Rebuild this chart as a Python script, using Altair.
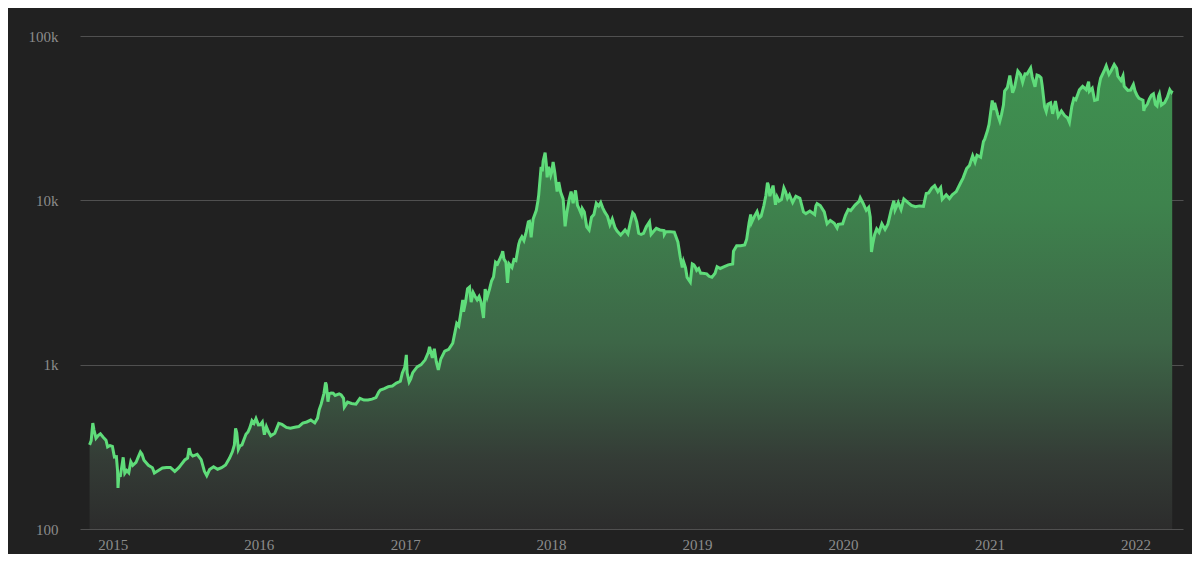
import altair as alt
import pandas as pd

# ---- data (date within year, price in USD) ----
d2014 = ["11-04", "11-08", "11-12", "11-15", "11-20", "11-26", "12-01", "12-08", "12-15", "12-19", "12-25", "12-31"]
p2014 = [325, 345, 441, 400, 357, 372, 380, 362, 347, 316, 322, 318]

d2015 = ["01-05", "01-10", "01-13", "01-14", "01-16", "01-20", "01-25", "01-27", "01-31", "02-05", "02-10",
         "02-15", "02-20", "02-28", "03-05", "03-11", "03-15", "03-20", "03-31", "04-10", "04-15", "04-25",
         "05-05", "05-15", "05-25", "06-05", "06-15", "06-20", "06-30", "07-07", "07-11", "07-15", "07-20",
         "07-31", "08-10", "08-18", "08-24", "08-31", "09-10", "09-20", "09-30", "10-10", "10-20", "10-27",
         "11-01", "11-04", "11-07", "11-11", "11-15", "11-20", "11-30", "12-05", "12-10", "12-15", "12-20",
         "12-25", "12-31"]
p2015 = [274, 275, 225, 178, 210, 211, 253, 273, 218, 227, 220,
         257, 244, 254, 272, 294, 285, 262, 244, 236, 219, 227,
         235, 237, 237, 224, 236, 245, 263, 270, 310, 286, 278,
         285, 264, 225, 211, 230, 239, 231, 236, 245, 270, 295,
         325, 410, 385, 305, 320, 325, 377, 389, 415, 456, 440,
         470, 430]

d2016 = ["01-05", "01-10", "01-15", "01-20", "01-25", "01-31", "02-10", "02-20", "02-28", "03-10", "03-20",
         "03-31", "04-10", "04-20", "04-30", "05-10", "05-20", "05-27", "05-31", "06-05", "06-12", "06-16",
         "06-18", "06-22", "06-25", "06-30", "07-05", "07-10", "07-20", "07-25", "07-31", "08-02", "08-10",
         "08-20", "08-31", "09-10", "09-20", "09-30", "10-10", "10-20", "10-27", "10-31", "11-10", "11-20",
         "11-30", "12-10", "12-20", "12-25", "12-31"]
p2016 = [431, 448, 375, 420, 392, 369, 382, 439, 433, 415, 411,
         416, 420, 441, 448, 460, 442, 473, 531, 575, 670, 780,
         755, 595, 665, 673, 670, 650, 665, 655, 624, 552, 592,
         581, 575, 623, 609, 609, 617, 630, 682, 700, 715, 735,
         742, 772, 792, 890, 963]

d2017 = ["01-04", "01-06", "01-11", "01-15", "01-20", "01-31", "02-10", "02-20", "02-28", "03-03", "03-10",
         "03-15", "03-20", "03-25", "03-31", "04-10", "04-20", "04-30", "05-05", "05-10", "05-15", "05-20",
         "05-25", "05-27", "06-01", "06-06", "06-11", "06-15", "06-20", "06-25", "06-30", "07-05", "07-10",
         "07-16", "07-20", "07-25", "07-31", "08-05", "08-10", "08-15", "08-20", "08-25", "08-31", "09-02",
         "09-05", "09-10", "09-14", "09-18", "09-25", "09-30", "10-05", "10-12", "10-15", "10-20", "10-25",
         "10-31", "11-05", "11-08", "11-12", "11-17", "11-25", "11-29", "12-01", "12-07", "12-10", "12-12",
         "12-17", "12-20", "12-22", "12-26", "12-31"]
p2017 = [1146, 890, 785, 820, 895, 970, 1000, 1070, 1190, 1282, 1100,
         1250, 1040, 930, 1080, 1210, 1240, 1350, 1550, 1780, 1720, 2050,
         2480, 2100, 2400, 2900, 2970, 2400, 2750, 2600, 2480, 2600, 2400,
         1923, 2880, 2570, 2880, 3230, 3420, 4200, 4100, 4360, 4700, 4900,
         4400, 4200, 3150, 4100, 3900, 4360, 4300, 5400, 5700, 6000, 5700,
         6450, 7400, 7450, 5950, 7700, 8700, 9900, 10800, 16000, 15000, 17300,
         19500, 16600, 13800, 16000, 14200]

d2018 = ["01-03", "01-06", "01-10", "01-16", "01-20", "01-25", "01-31", "02-02", "02-05", "02-09", "02-15",
         "02-20", "02-25", "03-03", "03-08", "03-12", "03-18", "03-20", "03-25", "03-31", "04-06", "04-12",
         "04-18", "04-24", "04-30", "05-05", "05-10", "05-15", "05-22", "05-28", "06-03", "06-10", "06-15",
         "06-24", "06-30", "07-05", "07-12", "07-18", "07-24", "07-28", "08-03", "08-08", "08-14", "08-20",
         "08-27", "09-04", "09-08", "09-15", "09-21", "09-30", "10-10", "10-11", "10-15", "10-25", "11-05",
         "11-14", "11-20", "11-25", "11-28", "12-03", "12-07", "12-15", "12-20", "12-24", "12-28", "12-31"]
p2018 = [15000, 17100, 14900, 11300, 12900, 11200, 10200, 8800, 6950, 8300, 10100,
         11300, 9600, 11500, 9300, 8900, 8200, 8900, 8500, 6900, 6600, 7900,
         8200, 9600, 9250, 9700, 9000, 8500, 8000, 7100, 7700, 6800, 6500,
         6150, 6400, 6600, 6250, 7300, 8400, 8200, 7400, 6300, 6200, 6300,
         6900, 7400, 6200, 6500, 6750, 6600, 6550, 6200, 6450, 6450, 6400,
         5580, 4500, 3900, 4250, 3900, 3400, 3185, 4100, 4050, 3900, 3750]

d2019 = ["01-05", "01-10", "01-15", "01-25", "01-31", "02-07", "02-15", "02-20", "02-28", "03-10", "03-20",
         "03-31", "04-02", "04-10", "04-20", "04-30", "05-05", "05-11", "05-15", "05-17", "05-25", "05-31",
         "06-05", "06-10", "06-17", "06-22", "06-26", "06-28", "07-02", "07-10", "07-16", "07-20", "07-25",
         "07-31", "08-06", "08-10", "08-15", "08-20", "08-28", "09-05", "09-15", "09-24", "09-30", "10-10",
         "10-22", "10-25", "10-28", "11-05", "11-15", "11-22", "11-30", "12-10", "12-17", "12-20", "12-31"]
p2019 = [3850, 3600, 3600, 3570, 3450, 3400, 3600, 3950, 3850, 3950, 4050,
         4100, 4900, 5300, 5300, 5350, 5800, 7300, 8200, 7300, 8050, 8550,
         7800, 8000, 9300, 10700, 12800, 12400, 10600, 12300, 9400, 10500, 9900,
         10100, 11900, 11300, 10300, 10800, 9700, 10600, 10300, 8500, 8300, 8600,
         8200, 9250, 9550, 9300, 8500, 7200, 7550, 7250, 6800, 7150, 7200]

d2020 = ["01-07", "01-14", "01-20", "01-31", "02-10", "02-13", "02-20", "02-28", "03-05", "03-09", "03-12",
         "03-15", "03-20", "03-25", "03-31", "04-07", "04-15", "04-22", "04-30", "05-07", "05-10", "05-18",
         "05-25", "06-01", "06-10", "06-20", "06-30", "07-10", "07-20", "07-27", "08-02", "08-10", "08-17",
         "08-25", "09-01", "09-05", "09-15", "09-23", "09-30", "10-10", "10-21", "10-27", "11-05", "11-12",
         "11-20", "11-26", "12-01", "12-10", "12-17", "12-20", "12-27", "12-31"]
p2020 = [8100, 8800, 8650, 9350, 9850, 10350, 9600, 8700, 9050, 7900, 4850,
         5400, 6200, 6700, 6400, 7200, 6650, 7150, 8650, 9950, 8750, 9700,
         8800, 10200, 9750, 9300, 9150, 9250, 9200, 11000, 11100, 11900, 12300,
         11300, 11950, 10150, 10800, 10250, 10800, 11300, 12800, 13650, 15600, 16300,
         18700, 17100, 18800, 18300, 22800, 23500, 26500, 29000]

d2021 = ["01-03", "01-08", "01-11", "01-14", "01-22", "01-27", "01-31", "02-05", "02-08", "02-15", "02-21",
         "02-28", "03-05", "03-13", "03-20", "03-25", "03-31", "04-05", "04-14", "04-18", "04-25", "04-30",
         "05-05", "05-10", "05-13", "05-19", "05-23", "05-27", "06-03", "06-08", "06-15", "06-22", "06-30",
         "07-08", "07-15", "07-20", "07-26", "07-31", "08-05", "08-14", "08-22", "08-31", "09-06", "09-08",
         "09-15", "09-21", "09-28", "10-01", "10-06", "10-15", "10-20", "10-27", "11-01", "11-09", "11-15",
         "11-18", "11-26", "12-01", "12-04", "12-13", "12-20", "12-27", "12-31"]
p2021 = [32800, 40600, 35500, 39200, 33000, 30400, 33100, 38000, 46200, 48700, 57500,
         45200, 48900, 61200, 58100, 52300, 58900, 58700, 63900, 56200, 49100, 57800,
         57200, 55800, 49700, 37000, 34700, 38400, 39200, 33600, 40200, 32500, 35000,
         32800, 31800, 29800, 37300, 41600, 40900, 47000, 49300, 47100, 52700, 46100,
         48100, 40600, 41000, 48200, 55300, 61500, 65900, 58500, 61300, 67000, 63600,
         56900, 53600, 57200, 49400, 46700, 46900, 50700, 46300]

d2022 = ["01-05", "01-10", "01-20", "01-22", "01-24", "01-31", "02-05", "02-10", "02-15", "02-20", "02-24",
         "02-28", "03-02", "03-07", "03-15", "03-22", "03-28", "04-01", "04-03"]
p2022 = [43500, 41800, 40700, 35000, 36600, 38500, 41400, 43600, 44500, 38300, 37500,
         43200, 44400, 38000, 39300, 42400, 47100, 45500, 46600]

year_ticks = [2015, 2016, 2017, 2018, 2019, 2020, 2021, 2022]
price_ticks = [100, 1000, 10000, 100000]
price_labels = ["100", "1k", "10k", "100k"]

# ---- build table ----
rows = []
for yr, ds, ps in [(2014, d2014, p2014), (2015, d2015, p2015), (2016, d2016, p2016),
                   (2017, d2017, p2017), (2018, d2018, p2018), (2019, d2019, p2019),
                   (2020, d2020, p2020), (2021, d2021, p2021), (2022, d2022, p2022)]:
    for d, p in zip(ds, ps):
        rows.append({"date": f"{yr}-{d}", "price": p})
df = pd.DataFrame(rows)

label_expr = "{" + ", ".join(f"'{v}': '{l}'" for v, l in zip(price_ticks, price_labels)) + "}[datum.value]"

x_enc = alt.X(
    "date:T",
    scale=alt.Scale(domain=[alt.DateTime(year=2014, month=10, date=11),
                            alt.DateTime(year=2022, month=4, date=30)]),
    axis=alt.Axis(values=[alt.DateTime(year=y, month=1, date=1) for y in year_ticks],
                  format="%Y", title=None, grid=False, ticks=False, domain=False,
                  labelPadding=8, labelFont="Liberation Serif", labelFontSize=15,
                  labelColor="#8c8c8c"),
)
y_enc = alt.Y(
    "price:Q",
    scale=alt.Scale(type="log", domain=[100, 100000]),
    axis=alt.Axis(values=price_ticks, labelExpr=label_expr, title=None, ticks=False,
                  domain=False, grid=True, gridColor="#505050", gridWidth=1,
                  labelPadding=22, labelFont="Liberation Serif", labelFontSize=15,
                  labelColor="#8c8c8c"),
)

gradient = alt.Gradient(
    gradient="linear",
    x1=0, x2=0, y1=0, y2=1,
    stops=[
        alt.GradientStop(color="#3f9150", offset=0),
        alt.GradientStop(color="#3e834d", offset=0.3),
        alt.GradientStop(color="#3d6647", offset=0.6),
        alt.GradientStop(color="#343c36", offset=0.85),
        alt.GradientStop(color="#2c2c2c", offset=1),
    ],
)

base = alt.Chart(df)
area = base.mark_area(color=gradient, interpolate="linear").encode(
    x=x_enc, y=y_enc, y2=alt.datum(100)
)
line = base.mark_line(color="#5fdc7a", strokeWidth=3, interpolate="linear").encode(
    x="date:T", y="price:Q"
)

chart = alt.layer(area, line).properties(
    width=1103, height=493,
    background="#212121",
    padding={"left": 72, "top": 28, "right": 9, "bottom": 25},
    autosize=alt.AutoSizeParams(type="none"),
).configure_view(stroke=None)

chart.save("out.html", embed_options={"renderer": "svg", "actions": False})
